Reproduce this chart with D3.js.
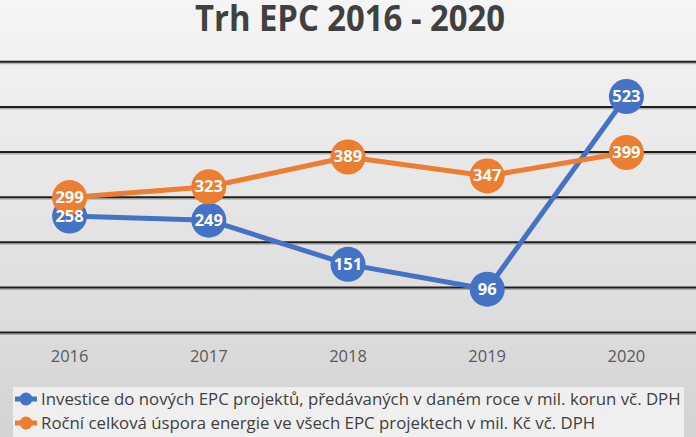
<!DOCTYPE html>
<html><head><meta charset="utf-8">
<script src="https://cdn.jsdelivr.net/npm/d3@7/dist/d3.min.js"></script>
<style>html,body{margin:0;padding:0;overflow:hidden;background:#fff}svg{display:block}</style>
</head><body>
<div id="chart"></div>
<script>
const title = "Trh EPC 2016 - 2020";
const years = ["2016", "2017", "2018", "2019", "2020"];
const investice = [258, 249, 151, 96, 523];
const uspora = [299, 323, 389, 347, 399];
const seriesNames = [
  "Investice do nových EPC projektů, předávaných v daném roce v mil. korun vč. DPH",
  "Roční celková úspora energie ve všech EPC projektech v mil. Kč vč. DPH"
];
const gridTicks = [0, 100, 200, 300, 400, 500, 600];
const colors = ["#4472C4", "#ED7D31"];

const W = 696, H = 437;
const svg = d3.select("#chart").append("svg").attr("width", W).attr("height", H);
const defs = svg.append("defs");
const grad = defs.append("linearGradient").attr("id", "bg").attr("x1", 0).attr("y1", 0).attr("x2", 0).attr("y2", 1);
grad.append("stop").attr("offset", "0%").attr("stop-color", "#f5f5f5");
grad.append("stop").attr("offset", "100%").attr("stop-color", "#d3d3d3");
svg.append("rect").attr("width", W).attr("height", H).attr("fill", "url(#bg)");

const font = "'Open Sans', 'Liberation Sans', sans-serif";

// Title
const t = svg.append("text").attr("x", 350).attr("y", 31).attr("text-anchor", "middle")
  .attr("font-family", font).attr("font-weight", "bold").attr("font-size", 35)
  .attr("fill", "#404040").text(title);
if (t.node().getComputedTextLength() > 310) t.attr("textLength", 310).attr("lengthAdjust", "spacingAndGlyphs");

const x = d3.scalePoint().domain(years).range([0, W]).padding(0.5);
const y = d3.scaleLinear().domain([0, 600]).range([332.5, 61.8]);

// gridlines
const g = svg.append("g");
g.selectAll("line.sh").data(gridTicks).join("line").attr("class", "sh")
  .attr("x1", 0).attr("x2", W).attr("y1", d => y(d) + 1.8).attr("y2", d => y(d) + 1.8)
  .attr("stroke", "#8a8a8a").attr("stroke-opacity", 0.6).attr("stroke-width", 1.5);
g.selectAll("line.gr").data(gridTicks).join("line").attr("class", "gr")
  .attr("x1", 0).attr("x2", W).attr("y1", d => y(d)).attr("y2", d => y(d))
  .attr("stroke", "#1f1f1f").attr("stroke-width", 2);

// x axis labels
svg.append("g").selectAll("text").data(years).join("text")
  .attr("x", d => x(d)).attr("y", 362).attr("text-anchor", "middle")
  .attr("font-family", font).attr("font-size", 16.5).attr("fill", "#595959").text(d => d);

const series = [investice, uspora];
const line = d3.line().x((d, i) => x(years[i])).y(d => y(d));
series.forEach((data, si) => {
  const sg = svg.append("g");
  sg.append("path").datum(data).attr("d", line).attr("fill", "none")
    .attr("stroke", colors[si]).attr("stroke-width", 5).attr("stroke-linejoin", "round");
  sg.selectAll("circle").data(data).join("circle")
    .attr("cx", (d, i) => x(years[i])).attr("cy", d => y(d)).attr("r", 17.5).attr("fill", colors[si]);
});
series.forEach((data, si) => {
  svg.append("g").selectAll("text").data(data).join("text")
    .attr("x", (d, i) => x(years[i])).attr("y", d => y(d) + 5.5).attr("text-anchor", "middle")
    .attr("font-family", font).attr("font-weight", "bold").attr("font-size", 16.5)
    .attr("fill", "#fff").text(d => d);
});

// legend
svg.append("rect").attr("x", 13).attr("y", 387).attr("width", 671).attr("height", 52).attr("fill", "#efefef");
const lg = svg.append("g");
const rowsY = [399, 423];
const texts = [];
seriesNames.forEach((n, i) => {
  lg.append("line").attr("x1", 15).attr("x2", 37).attr("y1", rowsY[i]).attr("y2", rowsY[i])
    .attr("stroke", colors[i]).attr("stroke-width", 5);
  lg.append("circle").attr("cx", 26).attr("cy", rowsY[i]).attr("r", 6.5).attr("fill", colors[i]);
  texts.push(lg.append("text").attr("x", 41).attr("y", rowsY[i] + 6)
    .attr("font-family", font).attr("font-size", 16).attr("fill", "#404040").text(n));
});
const w0 = texts[0].node().getComputedTextLength();
const fs = Math.min(17.5, 16 * 640 / w0);
texts.forEach(tx => tx.attr("font-size", fs));
</script>
</body></html>
